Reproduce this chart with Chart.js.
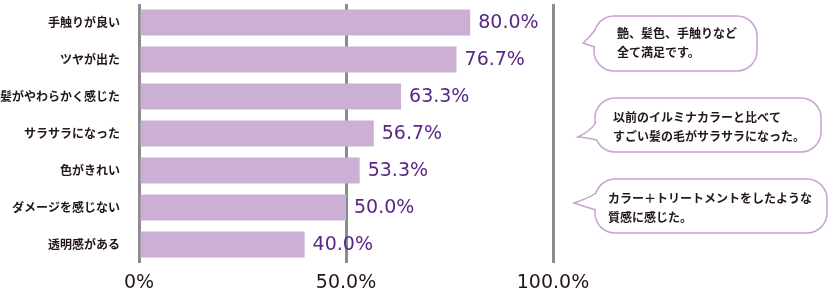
<!DOCTYPE html>
<html>
<head>
<meta charset="utf-8">
<script src="https://cdn.jsdelivr.net/npm/chart.js@4"></script>
<style>
  html, body { margin: 0; padding: 0; background: #fff; }
  #wrap { width: 830px; height: 295px; position: relative; }
</style>
</head>
<body>
<div id="wrap"><canvas id="myChart" width="830" height="295"></canvas></div>
<script>
// datos del grafico
let categories = ['手触りが良い', 'ツヤが出た', '髪がやわらかく感じた', 'サラサラになった', '色がきれい', 'ダメージを感じない', '透明感がある'];
let values = [80.0, 76.7, 63.3, 56.7, 53.3, 50.0, 40.0];
let xTicks = [0, 50, 100];
let comments = [
  ['艶、髪色、手触りなど', '全て満足です。'],
  ['以前のイルミナカラーと比べて', 'すごい髪の毛がサラサラになった。'],
  ['カラー＋トリートメントをしたような', '質感に感じた。']
];

const jpFont = '"Noto Sans CJK JP", "Noto Sans", sans-serif';
const numFont = '"DejaVu Sans", sans-serif';

// etiquetas de valor al final de cada barra
const valueLabels = {
  id: 'valueLabels',
  afterDatasetsDraw(chart) {
    const ctx = chart.ctx;
    const meta = chart.getDatasetMeta(0);
    ctx.save();
    ctx.font = '19px ' + numFont;
    ctx.fillStyle = '#5b2786';
    ctx.textAlign = 'left';
    ctx.textBaseline = 'middle';
    meta.data.forEach((bar, i) => {
      ctx.fillText(values[i].toFixed(1) + '%', bar.x + 8, bar.y + 1);
    });
    ctx.restore();
  }
};

// globos de comentarios a la derecha
const bubbles = {
  id: 'bubbles',
  afterDraw(chart) {
    const ctx = chart.ctx;
    const boxes = [
      { x: 594, y: 16, w: 163, h: 55, a: 30, b: 47, tx: 583, ty: 43, textX: 617, l1: 33, l2: 52 },
      { x: 595, y: 98, w: 226, h: 54, a: 122, b: 140, tx: 578, ty: 137, textX: 613, l1: 117, l2: 136 },
      { x: 595, y: 179, w: 232, h: 54, a: 193, b: 210, tx: 574, ty: 203, textX: 608, l1: 198, l2: 217 }
    ];
    ctx.save();
    boxes.forEach((bx, i) => {
      ctx.lineWidth = 1.5;
      ctx.strokeStyle = '#c8a2d2';
      ctx.fillStyle = '#fff';
      ctx.beginPath();
      ctx.roundRect(bx.x, bx.y, bx.w, bx.h, 20);
      ctx.fill();
      ctx.stroke();
      // cola
      ctx.beginPath();
      ctx.moveTo(bx.x + 1, bx.a);
      ctx.quadraticCurveTo(bx.x - 4, bx.ty - 6, bx.tx, bx.ty);
      ctx.quadraticCurveTo(bx.x - 6, bx.b - 2, bx.x + 1, bx.b);
      ctx.fill();
      ctx.stroke();
      ctx.fillRect(bx.x + 1, bx.a + 1, 3, bx.b - bx.a - 2);
      // texto
      ctx.fillStyle = '#231815';
      ctx.font = 'bold 12px ' + jpFont;
      ctx.textAlign = 'left';
      ctx.textBaseline = 'middle';
      ctx.fillText(comments[i][0], bx.textX, bx.l1);
      ctx.fillText(comments[i][1], bx.textX, bx.l2);
    });
    ctx.restore();
  }
};

let myChart = {
  type: 'bar',
  data: {
    labels: categories,
    datasets: [{
      data: values,
      backgroundColor: '#cbafd4',
      borderWidth: 0,
      categoryPercentage: 0.7,
      barPercentage: 1.0
    }]
  },
  options: {
    indexAxis: 'y',
    responsive: false,
    animation: false,
    layout: { padding: { top: 4, right: 277, bottom: 1, left: 0 } },
    plugins: {
      legend: { display: false },
      tooltip: { enabled: false }
    },
    scales: {
      x: {
        min: 0,
        max: 100,
        afterBuildTicks(scale) {
          scale.ticks = xTicks.map(v => ({ value: v }));
        },
        afterFit(scale) {
          scale.height = 31;
          scale.paddingLeft = 0;
          scale.paddingRight = 0;
        },
        ticks: {
          padding: 9,
          color: '#231815',
          font: { size: 19, family: numFont },
          callback: v => v === 0 ? '0%' : v.toFixed(1) + '%'
        },
        grid: { color: '#8c8c8c', lineWidth: 3, drawTicks: false },
        border: { display: false }
      },
      y: {
        afterFit(scale) {
          scale.width = 139;
          scale.paddingTop = 0;
          scale.paddingBottom = 0;
        },
        ticks: {
          padding: 11,
          color: '#231815',
          font: { size: 12, weight: 'bold', family: jpFont }
        },
        grid: { display: false },
        border: { display: false }
      }
    }
  },
  plugins: [valueLabels, bubbles]
};

var canvas = document.getElementById('myChart');
window.bar = new Chart(canvas, myChart);
</script>
</body>
</html>
